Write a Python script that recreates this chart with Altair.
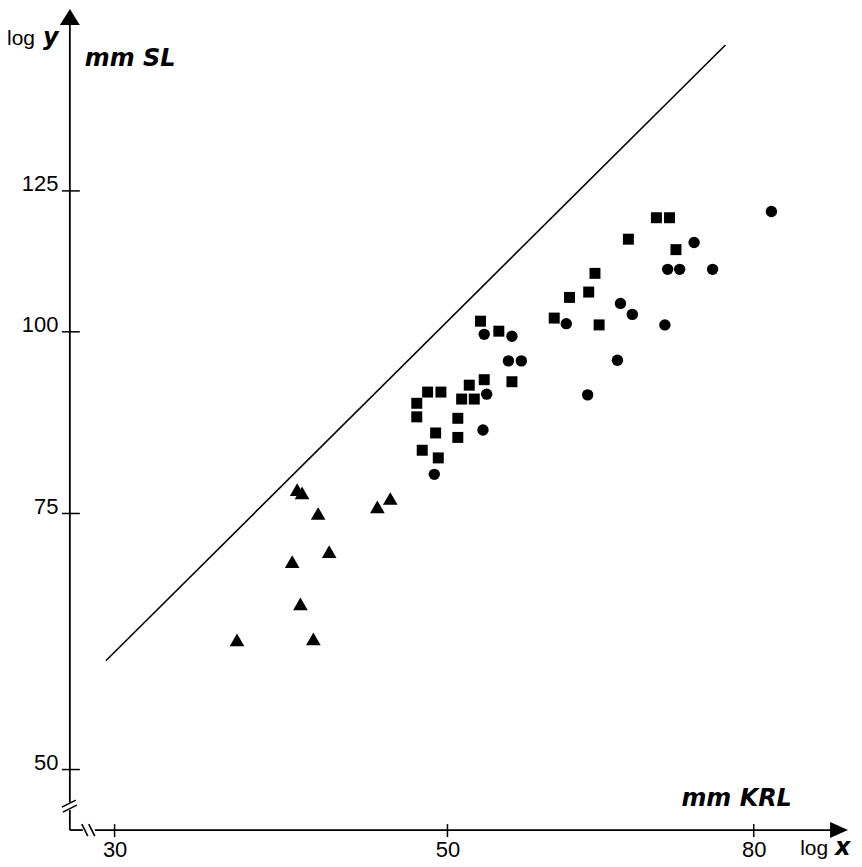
import altair as alt
import pandas as pd

# ---- data (mm KRL vs mm SL, log-log) ----
tri_x = [39.7, 40.0, 41.0, 45.8, 44.9, 41.7, 39.4, 39.9, 36.2, 40.7]
tri_y = [77.9, 77.5, 75.0, 76.8, 75.8, 70.6, 69.5, 65.0, 61.4, 61.5]

sq_x = [52.6, 54.1, 58.9, 52.9, 51.7, 55.2, 48.5, 49.5, 51.1, 52.1, 47.7, 47.7,
        50.8, 49.1, 50.8, 48.1, 49.3, 68.9, 70.3, 66.0, 71.0, 62.7, 62.1, 60.3, 63.1]
sq_y = [101.7, 100.1, 102.2, 92.7, 91.9, 92.4, 90.9, 90.9, 89.9, 89.9, 89.3, 87.4,
        87.2, 85.2, 84.6, 82.9, 81.9, 119.8, 119.8, 115.8, 113.9, 109.7, 106.5, 105.6, 101.1]

ci_x = [52.9, 55.2, 60.0, 54.9, 56.0, 53.1, 52.8, 49.0, 82.2, 73.0, 70.1, 71.4,
        75.1, 65.2, 66.4, 69.8, 64.9, 62.0]
ci_y = [99.6, 99.3, 101.3, 95.5, 95.5, 90.6, 85.6, 79.8, 121.0, 115.2, 110.4, 110.4,
        110.4, 104.6, 102.8, 101.1, 95.6, 90.5]

line_x = [29.6, 76.6]
line_y = [59.4, 157.5]

x_ticks = [30, 50, 80]
y_ticks = [50, 75, 100, 125]

# ---- scales / axes ----
FONT = "Liberation Sans"
BFONT = "DejaVu Sans"
XS = alt.Scale(type="log", domain=[28.01, 92.45], nice=False, zero=False)
YS = alt.Scale(type="log", domain=[45.43, 166.2], nice=False, zero=False)
xaxis = alt.Axis(values=x_ticks, domain=False, ticks=False, grid=False, title=None,
                 labelFont=FONT, labelFontSize=22, labelColor="black", labelPadding=9,
                 labelFlush=False, labelOverlap=False, format="d")
yaxis = alt.Axis(values=y_ticks, domain=False, ticks=False, grid=False, title=None,
                 labelFont=FONT, labelFontSize=22, labelColor="black", labelPadding=12,
                 labelBaseline="alphabetic", labelFlush=False, labelOverlap=False, format="d")
xenc = alt.X("x:Q", scale=XS, axis=xaxis)
yenc = alt.Y("y:Q", scale=YS, axis=yaxis)

df_tri = pd.DataFrame({"x": tri_x, "y": tri_y})
df_sq = pd.DataFrame({"x": sq_x, "y": sq_y})
df_ci = pd.DataFrame({"x": ci_x, "y": ci_y})
df_line = pd.DataFrame({"x": line_x, "y": line_y})
df_xt = pd.DataFrame({"x": x_ticks})
df_yt = pd.DataFrame({"y": y_ticks})
one = pd.DataFrame({"a": [0]})

tri = alt.Chart(df_tri).mark_point(shape="triangle-up", filled=True, size=216,
                                   color="black", opacity=1).encode(x=xenc, y=yenc)
sq = alt.Chart(df_sq).mark_point(shape="square", filled=True, size=121,
                                 color="black", opacity=1).encode(x=xenc, y=yenc)
ci = alt.Chart(df_ci).mark_point(shape="circle", filled=True, size=130,
                                 color="black", opacity=1).encode(x=xenc, y=yenc)
diag = alt.Chart(df_line).mark_line(color="black", strokeWidth=1.6).encode(x=xenc, y=yenc)

xt = alt.Chart(df_xt).mark_rule(color="black", strokeWidth=1.5).encode(
    x=xenc, y=alt.value(815), y2=alt.value(828))
yt = alt.Chart(df_yt).mark_rule(color="black", strokeWidth=1.5).encode(
    y=yenc, x=alt.value(-8), x2=alt.value(10))


def seg(x1, y1, x2, y2, w=1.8):
    return alt.Chart(one).mark_rule(color="black", strokeWidth=w).encode(
        x=alt.value(x1), y=alt.value(y1), x2=alt.value(x2), y2=alt.value(y2))


axes = [
    seg(0, 10, 0, 793),      # y axis upper
    seg(0, 801, 0, 821),     # y axis lower
    seg(0, 821, 13, 821),    # x axis left stub
    seg(25, 821, 764, 821),  # x axis main
    seg(-8, 798, 6, 791, 1.6),   # y break strokes
    seg(-7, 803, 7, 796, 1.6),
    seg(12, 815, 18, 827, 1.6),  # x break strokes
    seg(19, 815, 25, 827, 1.6),
]

arrow_up = alt.Chart(one).mark_point(shape="M0,-1L1.25,1L-1.25,1Z", filled=True, size=256,
                                     color="black", opacity=1, strokeWidth=0).encode(
    x=alt.value(0), y=alt.value(6))
arrow_right = alt.Chart(one).mark_point(shape="M1,0L-1,-0.8889L-1,0.8889Z", filled=True,
                                        size=324, color="black", opacity=1,
                                        strokeWidth=0).encode(
    x=alt.value(771), y=alt.value(821))


def label(txt, x, y, size, bold_italic=False):
    if bold_italic:
        kw = dict(fontStyle="italic", fontWeight="bold", font=BFONT)
    else:
        kw = dict(font=FONT)
    return alt.Chart(one).mark_text(text=txt, align="left", baseline="alphabetic",
                                    fontSize=size, color="black", **kw).encode(
        x=alt.value(x), y=alt.value(y))


labels = [
    label("log", -63, 34, 21),
    label("y", -27, 34, 24, True),
    label("mm SL", 15, 55, 24, True),
    label("mm KRL", 613, 797, 24, True),
    label("log", 732, 846, 21),
    label("x", 767, 846, 24, True),
]

chart = alt.layer(diag, tri, sq, ci, xt, yt, *axes, arrow_up, arrow_right, *labels).properties(
    width=780, height=821,
    padding={"left": 62, "top": 2, "right": 6, "bottom": 32},
    autosize=alt.AutoSizeParams(type="none"),
    background="white",
).configure_view(stroke=None)

chart.save("out.html", embed_options={"renderer": "svg", "actions": False})
